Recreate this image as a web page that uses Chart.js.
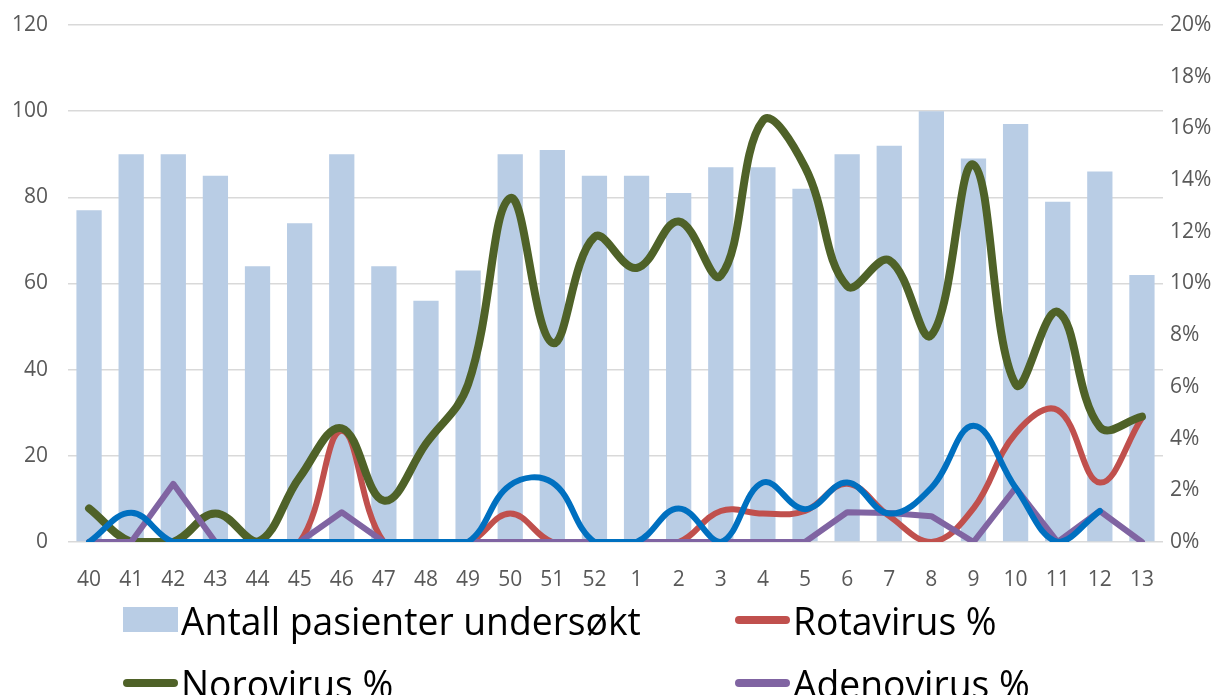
<!DOCTYPE html>
<html>
<head>
<meta charset="utf-8">
<script src="https://cdn.jsdelivr.net/npm/chart.js@4.4.1/dist/chart.umd.min.js"></script>
<style>
html,body{margin:0;padding:0;background:#fff;overflow:hidden}
#wrap{position:relative;width:1229px;height:695px}
#box{position:absolute;left:0;top:0;width:1229px;height:590px}
#legend{position:absolute;left:123px;top:588px;display:grid;grid-template-columns:612px 560px}
.li{display:flex;align-items:center;height:63px;white-space:nowrap}
.sw{width:55px;flex:none}
.tx{font-family:"Open Sans",sans-serif;font-size:38px;color:#000;transform:scaleX(.98);transform-origin:left center;margin-left:3px}
</style>
</head>
<body>
<div id="wrap">
  <div id="box"><canvas id="c"></canvas></div>
  <div id="legend"></div>
</div>
<script>
var weeks = ["40","41","42","43","44","45","46","47","48","49","50","51","52","1","2","3","4","5","6","7","8","9","10","11","12","13"];
var patients = [77,90,90,85,64,74,90,64,56,63,90,91,85,85,81,87,87,82,90,92,100,89,97,79,86,62];
var rota  = [0,0,0,0,0,0,4.3,0,0,0,1.1,0,0,0,0,1.2,1.1,1.2,2.25,1.0,0,1.3,4.2,5.1,2.3,4.8];
var noro  = [1.3,0,0,1.1,0,2.5,4.4,1.6,3.8,6.1,13.3,7.7,11.8,10.6,12.4,10.3,16.3,14.5,9.9,10.9,8.0,14.6,6.1,8.9,4.45,4.85];
var adeno = [0,0,2.25,0,0,0,1.15,0,0,0,0,0,0,0,0,0,0,0,1.15,1.12,1.0,0,2.1,0,1.2,0];
var sapo  = [0,1.13,0,0,0,0,0,0,0,0,2.2,2.3,0,0,1.3,0,2.3,1.27,2.3,1.1,2.1,4.5,2.1,0,1.2,null];

var GRID = "#D9D9D9", TICK = "#595959";
var tickFont = {family:"'Open Sans', sans-serif", size:21};

function pct(v){ return v + "%"; }
function fitY(w){ return function(s){ s.width = w; s.paddingTop = 0; s.paddingBottom = 0; }; }

function lineSet(label, data, color, width, tension, order, inLegend){
  return { type:"line", label:label, data:data, yAxisID:"y1", borderColor:color, backgroundColor:color,
           borderWidth:width, pointRadius:0, tension:tension, cubicInterpolationMode:"default",
           borderCapStyle:"round", borderJoinStyle:"round", order:order, fill:false, inLegend:inLegend };
}

var chart = new Chart(document.getElementById("c"), {
  type:"bar",
  data:{
    labels:weeks,
    datasets:[
      { label:"Antall pasienter undersøkt", data:patients, backgroundColor:"#B9CDE5", yAxisID:"y",
        categoryPercentage:0.6, barPercentage:1, order:5, inLegend:true },
      lineSet("Rotavirus %", rota, "#C0504D", 6, 0.4, 4, true),
      lineSet("Norovirus %", noro, "#4F6228", 8, 0.4, 3, true),
      lineSet("Adenovirus %", adeno, "#8064A2", 6, 0, 2, true),
      lineSet("Sapovirus %", sapo, "#0070C0", 6, 0.4, 1, false)
    ]
  },
  options:{
    responsive:true, maintainAspectRatio:false, animation:false,
    layout:{ padding:{ top:25, right:0, bottom:0, left:0 } },
    plugins:{ legend:{display:false}, tooltip:{enabled:false} },
    scales:{
      x:{ grid:{display:false}, border:{display:false},
          ticks:{ color:TICK, font:tickFont, padding:17, maxRotation:0, autoSkip:false },
          afterFit:function(s){ s.height = 48; s.paddingLeft = 0; s.paddingRight = 0; } },
      y:{ position:"left", min:0, max:120, border:{display:false},
          grid:{ color:GRID, lineWidth:1.5, drawTicks:false },
          ticks:{ stepSize:20, color:TICK, font:tickFont, padding:20 },
          afterFit:fitY(68) },
      y1:{ position:"right", min:0, max:20, border:{display:false},
           grid:{ display:false, drawTicks:false },
           ticks:{ stepSize:2, color:TICK, font:tickFont, padding:7, callback:pct },
           afterFit:fitY(66) }
    }
  }
});

function buildLegend(ch){
  var html = "";
  ch.data.datasets.forEach(function(d){
    if (!d.inLegend) return;
    var sw = d.type === "line"
      ? '<span class="sw" style="height:8px;border-radius:4px;background:'+d.borderColor+'"></span>'
      : '<span class="sw" style="height:25px;background:'+d.backgroundColor+'"></span>';
    html += '<div class="li">'+sw+'<span class="tx">'+d.label+'</span></div>';
  });
  document.getElementById("legend").innerHTML = html;
}
buildLegend(chart);
</script>
</body>
</html>
